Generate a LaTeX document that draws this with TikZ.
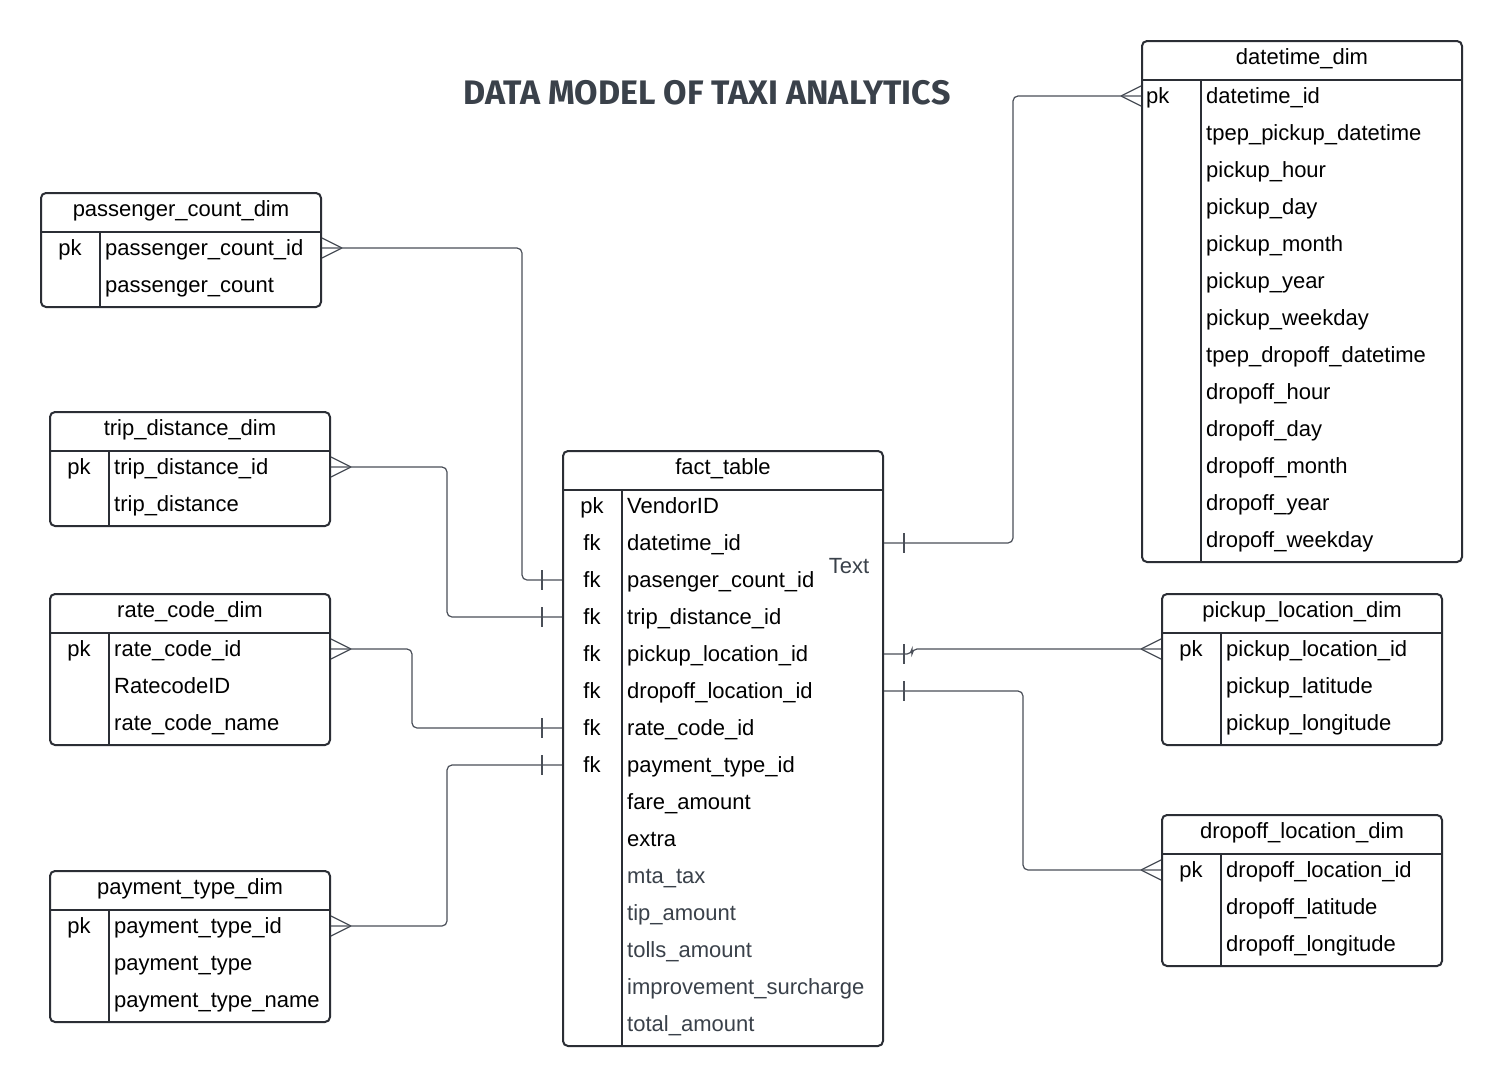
\documentclass[tikz,border=0pt]{standalone}
\usepackage{fontspec}
\setmainfont{Liberation Sans}
\newfontfamily\titlefont{Fira Sans}
\usetikzlibrary{positioning}

\definecolor{tblgray}{HTML}{2B2E35}
\definecolor{lnkgray}{HTML}{4A4F58}
\definecolor{txtgray}{HTML}{3A414A}

% one ER table: [key style] name, position, width, key width, rows, title, key/field list
\newcommand{\ertable}[8][]{%
  \node[tblbox, minimum width=#4, minimum height={40+37*#6}, anchor=north west] (#2) at #3 {};
  \node[fldtxt, anchor=center] (#2-h) at ([yshift=-17pt]#2.north) {#7};
  \draw[tblline] ([yshift=-40pt]#2.north west) -- ([yshift=-40pt]#2.north east);
  \draw[tblline] ([shift={(#5,40)}]#2.north west) -- ([xshift=#5pt]#2.south west);
  \foreach[count=\i] \k/\f in {#8}{
    \node[keytxt, #1] (#2-k\i) at ([shift={(#5/2,19+37*\i)}]#2.north west) {\k};
    \node[fldtxt] (#2-\i) at ([shift={(#5+5,19+37*\i)}]#2.north west) {\f};
  }%
}

\begin{document}
\begin{tikzpicture}[x=1pt, y=-1pt,
    tblbox/.style={draw=tblgray, line width=2pt, rounded corners=5pt, inner sep=0pt},
    tblline/.style={draw=tblgray, line width=2pt},
    keytxt/.style={inner sep=0pt, text height=16pt, text depth=1pt, font=\fontsize{22}{26}\selectfont},
    fldtxt/.style={inner sep=0pt, text height=16pt, text depth=1pt, anchor=west, font=\fontsize{22}{26}\selectfont},
    lnk/.style={draw=lnkgray, line width=1.2pt, rounded corners=5pt},
    crowl/.pic={\draw[lnk] (20,0) -- (0,-10) (20,0) -- (0,10);},
    crowr/.pic={\draw[lnk] (-20,0) -- (0,-10) (-20,0) -- (0,10);},
    barl/.pic={\draw[lnk] (-20,-10) -- (-20,10);},
    barr/.pic={\draw[lnk] (20,-10) -- (20,10);}]
  \path[use as bounding box, fill=white] (0,0) rectangle (1501,1084);

  \node[text=txtgray, font=\titlefont\bfseries\fontsize{34}{40}\selectfont] (title) at (707,93) {DATA MODEL OF TAXI ANALYTICS};

  \ertable{pc}{(40,192)}{280}{60}{2}{passenger\_count\_dim}{pk/passenger\_count\_id, /passenger\_count}
  \ertable{td}{(49,411)}{280}{60}{2}{trip\_distance\_dim}{pk/trip\_distance\_id, /trip\_distance}
  \ertable{rc}{(49,593)}{280}{60}{3}{rate\_code\_dim}{pk/rate\_code\_id, /RatecodeID, /rate\_code\_name}
  \ertable{pt}{(49,870)}{280}{60}{3}{payment\_type\_dim}{pk/payment\_type\_id, /payment\_type, /payment\_type\_name}
  \ertable{fact}{(562,450)}{320}{60}{15}{fact\_table}{pk/VendorID, fk/datetime\_id, fk/pasenger\_count\_id,
    fk/trip\_distance\_id, fk/pickup\_location\_id, fk/dropoff\_location\_id, fk/rate\_code\_id,
    fk/payment\_type\_id, /fare\_amount, /extra, /\textcolor{txtgray}{mta\_tax},
    /\textcolor{txtgray}{tip\_amount}, /\textcolor{txtgray}{tolls\_amount},
    /\textcolor{txtgray}{improvement\_surcharge}, /\textcolor{txtgray}{total\_amount}}
  \ertable[anchor=west, xshift=-25pt]{dt}{(1141,40)}{320}{60}{13}{datetime\_dim}{pk/datetime\_id,
    /tpep\_pickup\_datetime, /pickup\_hour, /pickup\_day, /pickup\_month, /pickup\_year,
    /pickup\_weekday, /tpep\_dropoff\_datetime, /dropoff\_hour, /dropoff\_day, /dropoff\_month,
    /dropoff\_year, /dropoff\_weekday}
  \ertable{pl}{(1161,593)}{280}{60}{3}{pickup\_location\_dim}{pk/pickup\_location\_id, /pickup\_latitude, /pickup\_longitude}
  \ertable{dl}{(1161,814)}{280}{60}{3}{dropoff\_location\_dim}{pk/dropoff\_location\_id, /dropoff\_latitude, /dropoff\_longitude}

  \node[fldtxt, anchor=center, text=txtgray] (note) at (849,566) {Text};

  % left side links
  \draw[lnk] (pc-1 -| pc.east) -- ++(200,0) |- (fact-3 -| fact.west);
  \draw[lnk] (td-1 -| td.east) -- ++(116,0) |- (fact-4 -| fact.west);
  \draw[lnk] (rc-1 -| rc.east) -- ++(81,0) |- (fact-7 -| fact.west);
  \draw[lnk] (pt-1 -| pt.east) -- ++(116,0) |- (fact-8 -| fact.west);
  \pic at (pc-1 -| pc.east) {crowl};
  \pic at (td-1 -| td.east) {crowl};
  \pic at (rc-1 -| rc.east) {crowl};
  \pic at (pt-1 -| pt.east) {crowl};
  \foreach \r in {3,4,7,8} \pic at (fact-\r -| fact.west) {barl};

  % right side links
  \draw[lnk] (fact-2 -| fact.east) -- ++(129,0) |- (dt-1 -| dt.west);
  \draw[lnk] (fact-5 -| fact.east) -- ++(28,0) |- (pl-1 -| pl.west);
  \draw[lnk] (fact-6 -| fact.east) -- ++(139,0) |- (dl-1 -| dl.west);
  \pic at (dt-1 -| dt.west) {crowr};
  \pic at (pl-1 -| pl.west) {crowr};
  \pic at (dl-1 -| dl.west) {crowr};
  \foreach \r in {2,5,6} \pic at (fact-\r -| fact.east) {barr};
\end{tikzpicture}
\end{document}
